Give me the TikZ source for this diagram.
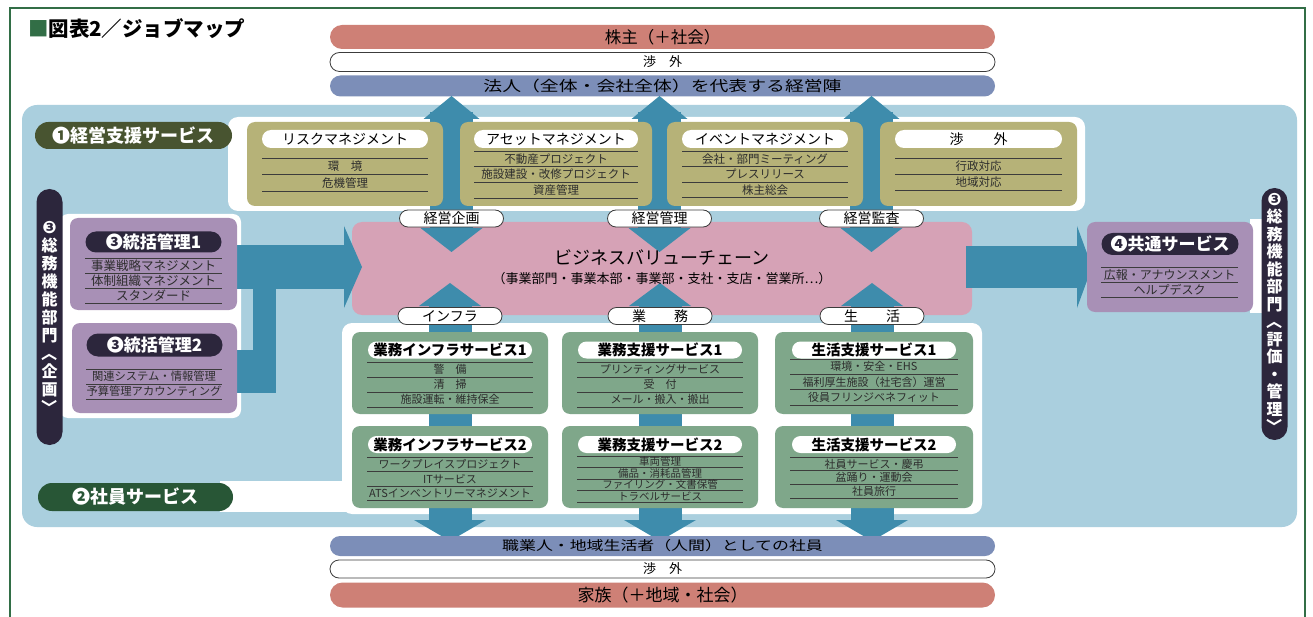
\documentclass[tikz,border=0pt]{standalone}
\usepackage{fontspec}
\usepackage{graphicx}
\setmainfont{Noto Sans CJK JP}
\newfontfamily\dvs{DejaVu Sans}
\usetikzlibrary{shapes.misc}
\definecolor{framegreen}{RGB}{50,110,70}
\definecolor{lb}{RGB}{170,207,222}
\definecolor{steel}{RGB}{62,140,172}
\definecolor{pinkc}{RGB}{214,162,182}
\definecolor{olivebox}{RGB}{182,178,120}
\definecolor{sage}{RGB}{127,167,138}
\definecolor{purp}{RGB}{168,144,182}
\definecolor{redbar}{RGB}{206,128,118}
\definecolor{bluebar}{RGB}{124,142,184}
\definecolor{navy}{RGB}{44,38,60}
\definecolor{darkolive}{RGB}{72,84,48}
\definecolor{darkgreen}{RGB}{40,86,54}
\definecolor{itemcol}{RGB}{45,45,45}
\definecolor{linecol}{RGB}{60,60,60}
\newcommand\myfs[1]{\fontsize{#1}{#1}\selectfont}
\newcommand\myfsl[2]{\fontsize{#1}{#2}\selectfont}
\newcommand\rotbr[1]{\rotatebox[origin=c]{-90}{#1}}
\newcommand\itemrows[7]{%
  \draw[itemline] (#2,#4) -- (#3,#4);
  \foreach \t [count=\i] in {#7}{%
    \node[itemtext, font=\myfs{#6}] (#1-\i) at ({(#2+#3)/2},{#4+(\i-0.5)*#5}) {\t};
    \draw[itemline] (#2,{#4+\i*#5}) -- (#3,{#4+\i*#5});
  }}
\begin{document}
\begin{tikzpicture}[x=1pt,y=-1pt,
  every node/.style={inner sep=0pt, outer sep=0pt},
  itemline/.style={draw=linecol, line width=0.7pt},
  itemtext/.style={text=itemcol},
  obox/.style={fill=olivebox, rounded corners=8pt, minimum height=84pt, anchor=north west},
  gbox/.style={fill=sage, rounded corners=8pt, minimum height=82pt, anchor=north west},
  pbox/.style={fill=purp, rounded corners=8pt, anchor=north west},
  hdr/.style={rounded rectangle, fill=white, minimum height=18pt, font=\myfs{14}},
  ghdr/.style={rounded rectangle, fill=white, minimum height=17pt, minimum width=164pt, font=\myfs{14.5}\bfseries},
  darkpill/.style={rounded rectangle, text=white, font=\myfs{18}\bfseries},
  lab/.style={rounded rectangle, fill=white, draw=linecol, line width=0.8pt, minimum width=104pt, minimum height=17pt, font=\myfs{14}},
  bar/.style={rounded rectangle, minimum width=665pt},
  vpill/.style={fill=navy, rounded corners=13pt, minimum width=26pt}
]
\useasboundingbox (0,0) rectangle (1313,617);
\fill[white] (0,0) rectangle (1313,617);
\draw[framegreen, line width=1.5pt] (10,8) rectangle (1305,640);
\node[anchor=west, font=\myfs{20.5}\bfseries] (title) at (28,29) {\textcolor{framegreen}{■}図表2／ジョブマップ};

% top bars
\node[bar, fill=redbar, minimum height=24pt, font=\myfs{16.5}] (kabu) at (662.5,37) {株主（＋社会）};
\node[bar, fill=white, draw=linecol, line width=0.8pt, minimum height=19pt, font=\myfs{13}] (shogaiT) at (662.5,62) {渉　外};
\node[bar, fill=bluebar, minimum height=21pt, font=\myfs{14.5}] (hojin) at (662.5,86) {\scalebox{1.3}[1]{法人（全体・会社全体）を代表する経営陣}};

% background regions
\fill[lb, rounded corners=15pt] (22,105) rectangle (1297,527);
\fill[white, rounded corners=10pt] (228,117) rectangle (1085,211);
\fill[white, rounded corners=8pt] (60,214) rectangle (241,418);
\fill[white, rounded corners=10pt] (342,323) rectangle (982,514);
\fill[white] (220,481) rectangle (350,512);
\fill[white] (1250,219) rectangle (1266,313);

% value chain
\node[fill=pinkc, rounded corners=10pt, minimum width=620pt, minimum height=93pt, anchor=north west] (vc) at (352,222) {};

% arrows
\foreach \c in {451.5,659.5,871.5}{
  \fill[steel] (\c-21.5,112) rectangle (\c+21.5,230);
  \fill[steel] (\c-28,119) -- (\c,96) -- (\c+28,119) -- cycle;
  \fill[steel] (\c-31,228) -- (\c,252) -- (\c+31,228) -- cycle;
}
\foreach \c in {450,660,872}{
  \fill[steel] (\c-31,306) -- (\c,283) -- (\c+31,306) -- cycle;
  \fill[steel] (\c-21.5,304) rectangle (\c+21.5,336);
  \fill[steel] (\c-21.5,410) rectangle (\c+21.5,430);
  \fill[steel] (\c-21.5,504) rectangle (\c+21.5,522);
  \fill[steel] (\c-36,520) -- (\c,541) -- (\c+36,520) -- cycle;
}
\fill[steel] (236,245) rectangle (346,289);
\fill[steel] (344,226) -- (362,267) -- (344,308) -- cycle;
\fill[steel] (253,285) rectangle (276,393);
\fill[steel] (236,350) rectangle (276,393);
\fill[steel] (966,246) rectangle (1080,288);
\fill[steel] (1077,226) -- (1092,267) -- (1077,308) -- cycle;

% value chain text
\node[font=\myfs{18}] (vct) at (662,257) {ビジネスバリューチェーン};
\node[font=\myfs{13}] (vcs) at (662,279) {（事業部門・事業本部・事業部・支社・支店・営業所…）};

% olive boxes
\node[obox, minimum width=196pt] (risk) at (247,122) {};
\node[hdr, minimum width=166pt] (riskh) at (345,139) {リスクマネジメント};
\itemrows{riski}{262}{428}{158}{16.5}{11.5}{環　境,危機管理}
\node[obox, minimum width=192pt] (asset) at (460,122) {};
\node[hdr, minimum width=164pt] (asseth) at (556,139) {アセットマネジメント};
\itemrows{asseti}{474}{638}{151}{15.7}{11.5}{不動産プロジェクト,施設建設・改修プロジェクト,資産管理}
\node[obox, minimum width=196pt] (event) at (667,122) {};
\node[hdr, minimum width=166pt] (eventh) at (765,139) {イベントマネジメント};
\itemrows{eventi}{682}{848}{151}{15.5}{11.5}{会社・部門ミーティング,プレスリリース,株主総会}
\node[obox, minimum width=197pt] (shog) at (880,122) {};
\node[hdr, minimum width=167pt] (shogh) at (978.5,139) {渉\hspace{30pt}外};
\itemrows{shogi}{895}{1062}{158}{16}{11.5}{行政対応,地域対応}

% management support pill
\node[darkpill, fill=darkolive, minimum width=197pt, minimum height=27pt] (p1) at (133.5,135.5) {❶経営支援サービス};

% labels
\node[lab] (l1) at (451.5,218.5) {経営企画};
\node[lab] (l2) at (659.5,218.5) {経営管理};
\node[lab] (l3) at (871.5,218.5) {経営監査};
\node[lab] (l4) at (450,316) {インフラ};
\node[lab] (l5) at (660,316) {業　　務};
\node[lab] (l6) at (872,316) {生　　活};

% purple boxes left
\node[pbox, minimum width=167pt, minimum height=92pt] (tk1) at (70,218) {};
\node[darkpill, fill=navy, minimum width=136pt, minimum height=21pt, font=\myfs{17}\bfseries] (tk1h) at (153.5,242) {❸統括管理1};
\itemrows{tk1i}{85}{222}{258}{15}{12.5}{事業戦略マネジメント,体制組織マネジメント,スタンダード}
\node[pbox, minimum width=165pt, minimum height=90pt] (tk2) at (72,323) {};
\node[darkpill, fill=navy, minimum width=136pt, minimum height=23pt, font=\myfs{17}\bfseries] (tk2h) at (154.5,345) {❸統括管理2};
\itemrows{tk2i}{86}{222}{369}{15}{11.3}{関連システム・情報管理,予算管理アカウンティング}

% common services
\node[pbox, minimum width=166pt, minimum height=90pt] (ky) at (1087,222) {};
\node[darkpill, fill=navy, minimum width=137pt, minimum height=22pt, font=\myfs{17}\bfseries] (kyh) at (1170,244) {❹共通サービス};
\itemrows{kyi}{1101}{1238}{267}{15}{12}{広報・アナウンスメント,ヘルプデスク}

% vertical pills
\node[vpill, minimum height=256pt] (vl) at (49.5,317) {};
\node[text=white, font=\myfsl{16}{18}\bfseries, align=center] (vlt) at (49.5,318) {{\dvs\myfs{17}❸}\\総\\務\\機\\能\\部\\門\\\rotbr{〈}\\企\\画\\\rotbr{〉}};
\node[vpill, minimum height=252pt] (vr) at (1274.5,314) {};
\node[text=white, font=\myfsl{16}{17.5}\bfseries, align=center] (vrt) at (1274.5,314) {{\dvs\myfs{17}❸}\\総\\務\\機\\能\\部\\門\\\rotbr{〈}\\評\\価\\・\\管\\理\\\rotbr{〉}};

% green boxes
\node[gbox, minimum width=196pt] (g11) at (352,332) {};
\node[ghdr] (g11h) at (450,350) {業務インフラサービス1};
\itemrows{g11i}{367}{533}{362}{15}{11}{警　備,清　掃,施設運転・維持保全}
\node[gbox, minimum width=196pt] (g12) at (562,332) {};
\node[ghdr] (g12h) at (660,350) {業務支援サービス1};
\itemrows{g12i}{577}{743}{362}{15}{11}{プリンティングサービス,受　付,メール・搬入・搬出}
\node[gbox, minimum width=198pt] (g13) at (775,332) {};
\node[ghdr] (g13h) at (874,350) {生活支援サービス1};
\itemrows{g13i}{790}{958}{359}{15.3}{11}{環境・安全・EHS,福利厚生施設（社宅含）運営,役員フリンジベネフィット}
\node[gbox, minimum width=196pt] (g21) at (352,426) {};
\node[ghdr] (g21h) at (450,444.5) {業務インフラサービス2};
\itemrows{g21i}{367}{533}{457}{14.5}{11}{ワークプレイスプロジェクト,ITサービス,ATSインベントリーマネジメント}
\node[gbox, minimum width=196pt] (g22) at (562,426) {};
\node[ghdr] (g22h) at (660,444.5) {業務支援サービス2};
\itemrows{g22i}{577}{743}{456}{11.5}{10.5}{車両管理,備品・消耗品管理,ファイリング・文書保管,トラベルサービス}
\node[gbox, minimum width=198pt] (g23) at (775,426) {};
\node[ghdr] (g23h) at (874,444.5) {生活支援サービス2};
\itemrows{g23i}{790}{958}{457}{13.7}{11}{社員サービス・慶弔,盆踊り・運動会,社員旅行}

% employee services pill
\node[darkpill, fill=darkgreen, minimum width=195pt, minimum height=28pt] (p2) at (135.5,497) {❷社員サービス};

% bottom bars
\node[bar, fill=bluebar, minimum height=20pt, font=\myfs{13}] (shoku) at (662.5,546) {\scalebox{1.3}[1]{職業人・地域生活者（人間）としての社員}};
\node[bar, fill=white, draw=linecol, line width=0.8pt, minimum height=18pt, font=\myfs{13}] (shogaiB) at (662.5,569) {渉　外};
\node[bar, fill=redbar, minimum height=25pt, font=\myfs{17}] (kazoku) at (662.5,595) {家族（＋地域・社会）};
\end{tikzpicture}
\end{document}
